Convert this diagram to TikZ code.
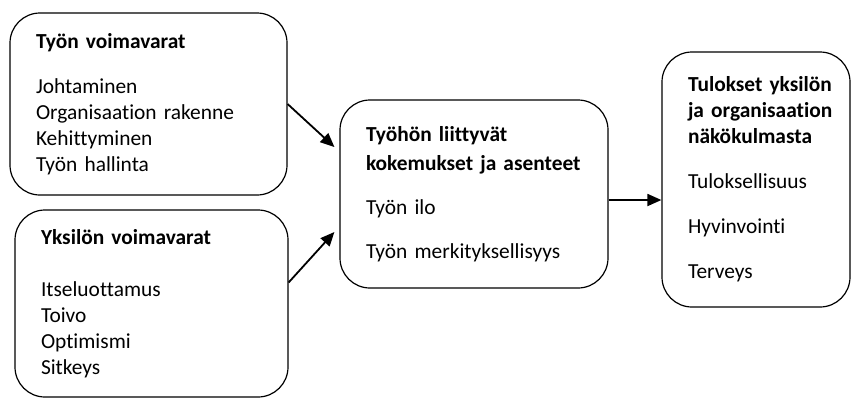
\documentclass[tikz,border=0pt]{standalone}
\usepackage{fontspec}
\setmainfont[Ligatures={NoCommon}]{Carlito}
\usepackage{tikz}
\usetikzlibrary{positioning,arrows.meta}
\hyphenpenalty=10000

\begin{document}
\begin{tikzpicture}[x=0.5pt, y=-0.5pt]
        \tikzstyle{every node}=[draw, rounded corners=15pt, line width=0.6pt, align=left,
            font=\fontsize{10.7}{13}\selectfont, inner xsep=13pt]
        \tikzstyle{arr}=[-{Triangle[length=7pt, width=6pt]}, line width=0.9pt]

        \useasboundingbox (0,0) rectangle (851,398);

        \node   (tyo)    [minimum width=138.5pt, minimum height=91pt, text width=112.5pt] at (148.5,104)
            {\textbf{Työn voimavarat}\\[9.5pt]
             Johtaminen\\ Organisaation rakenne\\ Kehittyminen\\ Työn hallinta};
        \node   (yks)    [minimum width=136.5pt, minimum height=93.5pt, text width=110.5pt] at (151.5,303.5)
            {\textbf{Yksilön voimavarat}\\[13pt]
             Itseluottamus\\ Toivo\\ Optimismi\\ Sitkeys};
        \node   (kok)    [minimum width=134pt, minimum height=94pt, text width=108pt] at (474,194)
            {\textbf{Työhön liittyvät}\\[1.5pt] \textbf{kokemukset ja asenteet}\\[9pt]
             Työn ilo\\[9pt] Työn merkityksellisyys};
        \node   (tul)    [minimum width=94pt, minimum height=127.5pt, text width=80pt, inner xsep=7pt] at (756,179.5)
            {\hspace*{6pt}\textbf{Tulokset yksilön}\\ \hspace*{6pt}\textbf{ja organisaation}\\ \hspace*{6pt}\textbf{näkökulmasta}\\[9.5pt]
             \hspace*{6pt}Tuloksellisuus\\[9.5pt] \hspace*{6pt}Hyvinvointi\\[9.5pt] \hspace*{6pt}Terveys};

        \draw[arr] (tyo.east) -- ([xshift=-2.5pt, yshift=23.5pt]kok.west);
        \draw[arr] ([yshift=10.5pt]yks.east) -- ([xshift=-2.5pt, yshift=-19pt]kok.west);
        \draw[arr] ([yshift=-3pt]kok.east) -- ([yshift=-3pt]kok.east -| tul.west);

    \end{tikzpicture}
\end{document}
